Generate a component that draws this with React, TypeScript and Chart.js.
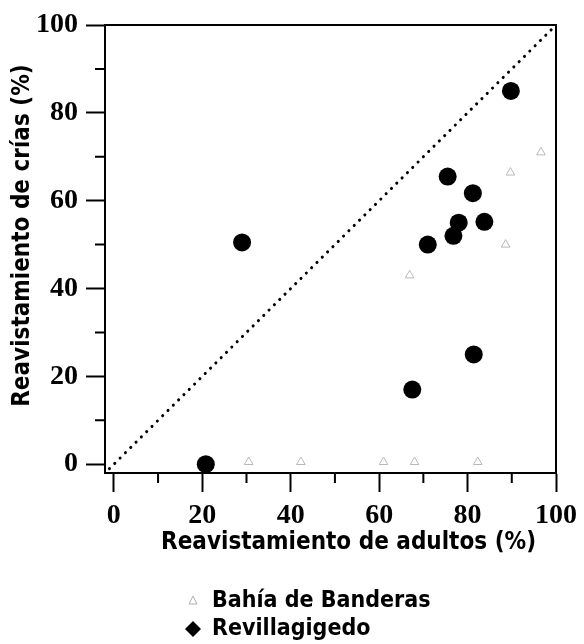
import React, { useEffect, useRef } from "react";
import { Chart, registerables } from "chart.js";

Chart.register(...registerables);

// ---- data ----
const seriesNames = ["Bahía de Banderas", "Revillagigedo"];
const xTitle = "Reavistamiento de adultos (%)";
const yTitle = "Reavistamiento de crías (%)";
const majorTicks = [0, 20, 40, 60, 80, 100];
const minorTicks = [10, 30, 50, 70, 90];

const revX = [20.8, 29, 67.5, 71, 75.5, 76.8, 78, 81.2, 81.4, 83.8, 89.8];
const revY = [0, 50.5, 17, 50, 65.5, 52, 55, 61.7, 25, 55.2, 85];

const bdbX = [30.5, 42.3, 61, 68, 82.3, 66.9, 88.6, 89.7, 96.6];
const bdbY = [0.5, 0.5, 0.5, 0.5, 0.5, 43, 50, 66.4, 71];

const diagX = [-1, 100];
const diagY = [-1, 100];

const TITLE_FONT = "'DejaVu Sans Condensed', 'Liberation Sans', sans-serif";
const TICK_FONT = "'Liberation Serif', 'DejaVu Serif', serif";

const framePlugin = {
  id: "frameAndLegend",
  afterDraw(chart: any) {
    const { ctx, chartArea: ca, scales } = chart;
    const x = scales.x;
    const y = scales.y;
    ctx.save();
    ctx.strokeStyle = "#000";
    ctx.lineWidth = 2;
    ctx.beginPath();
    ctx.moveTo(ca.left - 1, ca.top);
    ctx.lineTo(ca.right + 1, ca.top);
    ctx.moveTo(ca.right, ca.top);
    ctx.lineTo(ca.right, ca.bottom);
    for (const v of minorTicks) {
      const px = x.getPixelForValue(v);
      ctx.moveTo(px, ca.bottom);
      ctx.lineTo(px, ca.bottom + 10);
      const py = y.getPixelForValue(v);
      ctx.moveTo(ca.left, py);
      ctx.lineTo(ca.left - 10, py);
    }
    ctx.stroke();

    // axis titles
    ctx.fillStyle = "#000";
    ctx.font = `bold 24px ${TITLE_FONT}`;
    ctx.textAlign = "center";
    ctx.textBaseline = "middle";
    ctx.fillText(xTitle, ca.left + (ca.right - ca.left) * 0.54, ca.bottom + 70);
    ctx.save();
    ctx.translate(23, ca.top + (ca.bottom - ca.top) * 0.47);
    ctx.rotate(-Math.PI / 2);
    ctx.fillText(yTitle, 0, 0);
    ctx.restore();

    // legend
    const lx = 193;
    const tx = 212;
    const rows = [601, 629];
    ctx.font = `bold 23px ${TITLE_FONT}`;
    ctx.textAlign = "left";
    ctx.fillText(seriesNames[0], tx, rows[0]);
    ctx.fillText(seriesNames[1], tx, rows[1]);
    // markers
    ctx.strokeStyle = "#b0b0b0";
    ctx.lineWidth = 1;
    ctx.beginPath();
    ctx.moveTo(lx, rows[0] - 5);
    ctx.lineTo(lx + 4, rows[0] + 3);
    ctx.lineTo(lx - 4, rows[0] + 3);
    ctx.closePath();
    ctx.stroke();
    ctx.fillStyle = "#000";
    ctx.beginPath();
    ctx.moveTo(lx, rows[1] - 8);
    ctx.lineTo(lx + 8, rows[1]);
    ctx.lineTo(lx, rows[1] + 8);
    ctx.lineTo(lx - 8, rows[1]);
    ctx.closePath();
    ctx.fill();
    ctx.restore();
  },
};

export default function App() {
  const ref = useRef<HTMLCanvasElement | null>(null);
  useEffect(() => {
    document.body.style.margin = "0";
    const canvas = ref.current;
    if (!canvas) return;
    const tickFont = { family: TICK_FONT, weight: "bold" as const, size: 28 };
    const gridOpts = {
      drawOnChartArea: false,
      drawTicks: true,
      tickLength: 19,
      tickWidth: 2,
      tickColor: "#000",
    };
    const chart = new Chart(canvas, {
      type: "scatter",
      data: {
        datasets: [
          {
            label: "diag",
            data: diagX.map((v, i) => ({ x: v, y: diagY[i] })),
            showLine: true,
            borderColor: "#000",
            borderWidth: 3,
            borderDash: [0.1, 7.4],
            borderCapStyle: "round",
            pointRadius: 0,
            fill: false,
          } as any,
          {
            label: seriesNames[0],
            data: bdbX.map((v, i) => ({ x: v, y: bdbY[i] })),
            pointStyle: "triangle",
            pointRadius: 5,
            backgroundColor: "rgba(0,0,0,0)",
            borderColor: "#b8b8b8",
            borderWidth: 1,
          },
          {
            label: seriesNames[1],
            data: revX.map((v, i) => ({ x: v, y: revY[i] })),
            pointStyle: "circle",
            pointRadius: 9,
            backgroundColor: "#000",
            borderColor: "#000",
            borderWidth: 0,
          },
        ],
      },
      options: {
        responsive: false,
        animation: false,
        layout: { padding: { top: 25, right: 23, left: 0, bottom: 84 } },
        plugins: { legend: { display: false }, tooltip: { enabled: false } },
        scales: {
          x: {
            type: "linear",
            min: -2,
            max: 100,
            afterBuildTicks: (s: any) => {
              s.ticks = majorTicks.map((v) => ({ value: v }));
            },
            afterFit: (s: any) => {
              s.height = 87;
            },
            grid: gridOpts,
            border: { display: true, color: "#000", width: 2 },
            ticks: {
              color: "#000",
              padding: 7,
              autoSkip: false,
              maxRotation: 0,
              font: tickFont,
            },
          },
          y: {
            type: "linear",
            min: -2,
            max: 100,
            afterBuildTicks: (s: any) => {
              s.ticks = majorTicks.map((v) => ({ value: v }));
            },
            afterFit: (s: any) => {
              s.width = 105;
            },
            grid: gridOpts,
            border: { display: true, color: "#000", width: 2 },
            ticks: {
              color: "#000",
              padding: 8,
              autoSkip: false,
              font: tickFont,
            },
          },
        },
      },
      plugins: [framePlugin],
    });
    return () => chart.destroy();
  }, []);
  return <canvas ref={ref} width={584} height={644} style={{ display: "block" }} />;
}
